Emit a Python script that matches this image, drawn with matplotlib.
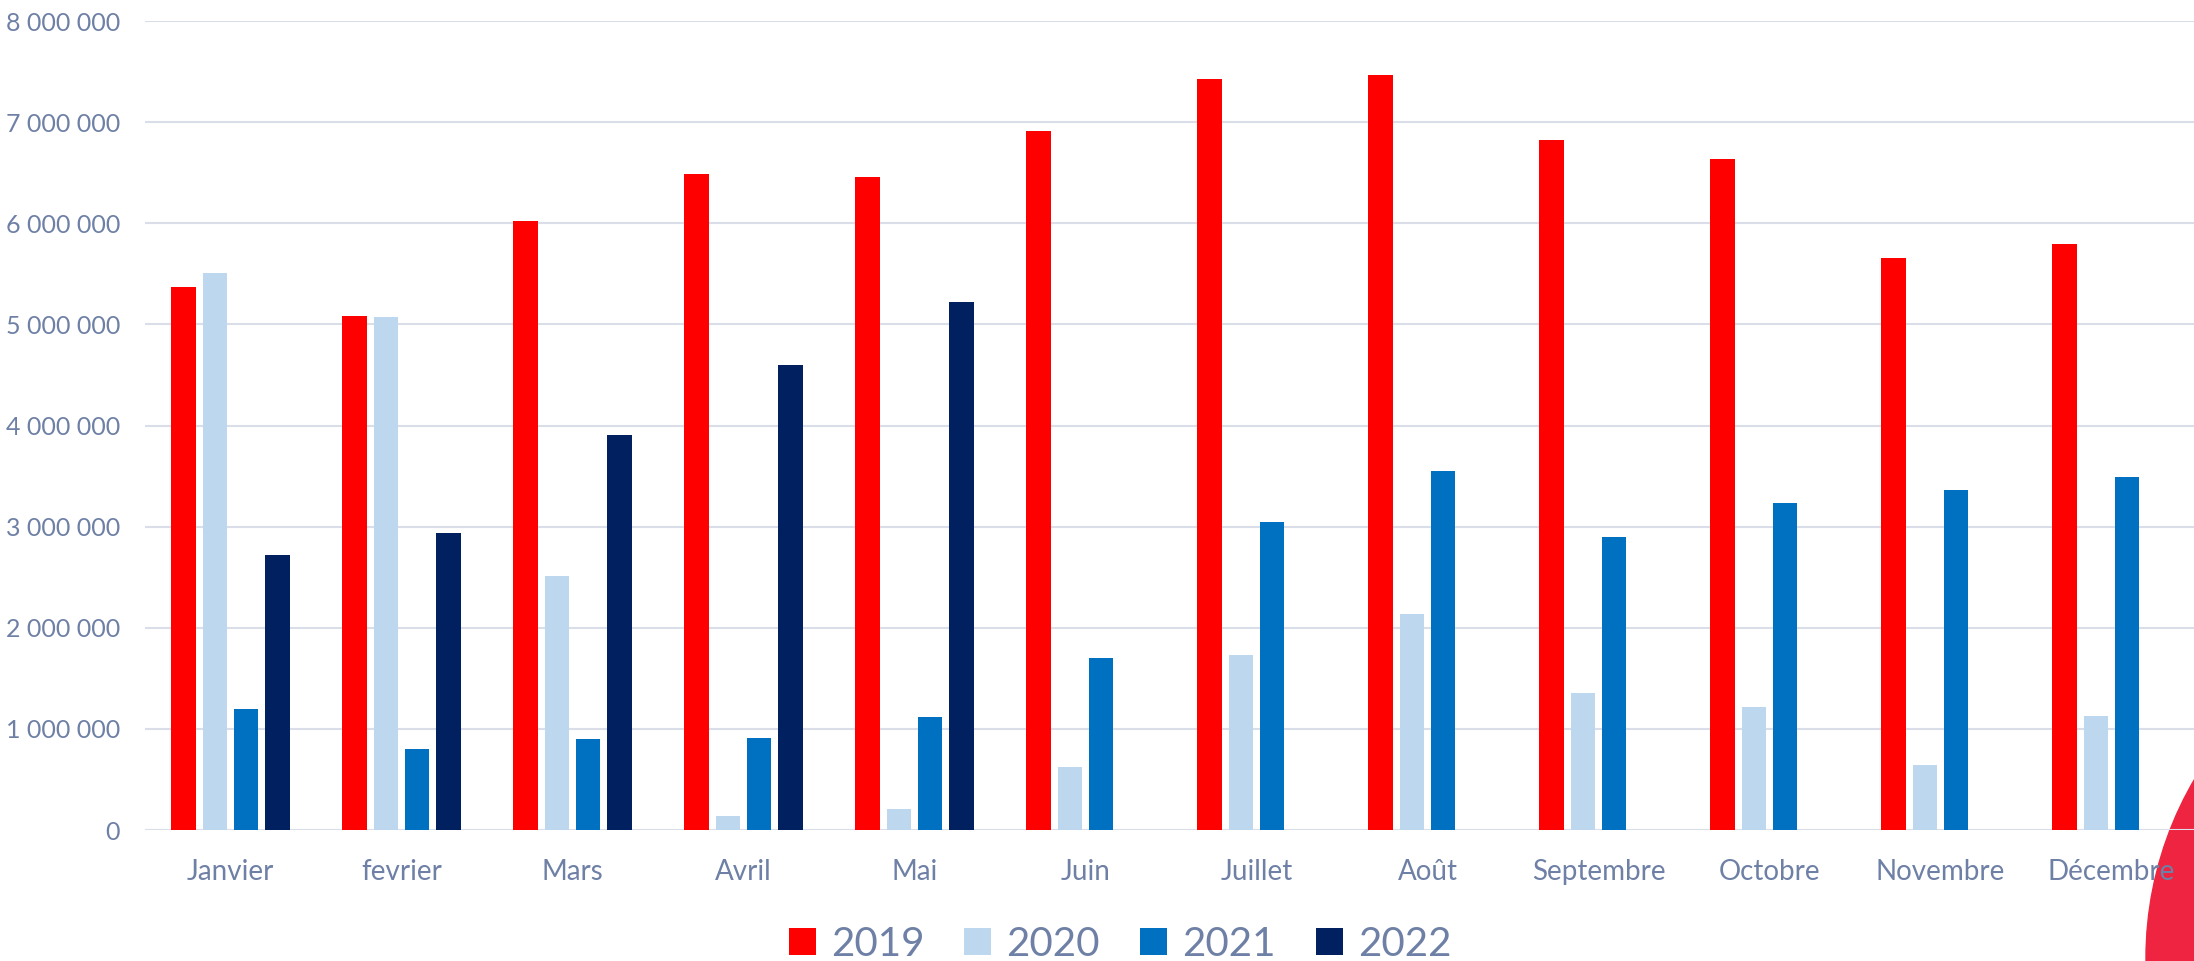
import matplotlib
matplotlib.use("Agg")
import matplotlib.pyplot as plt
from matplotlib.patches import Ellipse
from matplotlib.ticker import FuncFormatter, MultipleLocator
import numpy as np

plt.rcParams["font.family"] = ["Lato", "DejaVu Sans"]

# passagers par mois
months = ["Janvier", "fevrier", "Mars", "Avril", "Mai", "Juin", "Juillet",
          "Août", "Septembre", "Octobre", "Novembre", "Décembre"]
years = ["2019", "2020", "2021", "2022"]
pax_2019 = [5370000, 5080000, 6020000, 6490000, 6460000, 6910000,
            7430000, 7470000, 6820000, 6640000, 5660000, 5790000]
pax_2020 = [5510000, 5070000, 2510000, 140000, 210000, 620000,
            1730000, 2140000, 1350000, 1220000, 640000, 1130000]
pax_2021 = [1200000, 800000, 900000, 910000, 1120000, 1700000,
            3050000, 3550000, 2900000, 3230000, 3360000, 3490000]
pax_2022 = [2720000, 2940000, 3910000, 4600000, 5220000]
colors = ["#FF0000", "#BDD7EE", "#0070C0", "#002060"]

TEXT = "#6E80A5"
GRID = "#D9DEE9"

fig = plt.figure(figsize=(21.94, 9.61), dpi=100)
ax = fig.add_axes([145 / 2194, 1 - 830 / 961, 2052 / 2194, 809 / 961])
ax.patch.set_alpha(0)

# decorative red disc, bottom right
fig.patches.append(Ellipse((2499 / 2194, 3 / 961), 706 / 2194, 706 / 961,
                           transform=fig.transFigure, color="#EE2440",
                           zorder=-10))

x = np.arange(len(months))
pitch = 0.183
width = 0.143
series = [pax_2019, pax_2020, pax_2021, pax_2022]
for i, (year, vals, col) in enumerate(zip(years, series, colors)):
    xs = x[:len(vals)] + (i - 1.5) * pitch
    ax.bar(xs, vals, width=width, color=col, label=year, zorder=3)

ax.set_xlim(-0.5, 11.5)
ax.set_ylim(0, 8000000)
ax.yaxis.set_major_locator(MultipleLocator(1000000))
ax.yaxis.set_major_formatter(
    FuncFormatter(lambda v, p: f"{v:,.0f}".replace(",", " ")))
ax.set_xticks(x)
ax.set_xticklabels(months)
ax.grid(axis="y", color=GRID, linewidth=1.5, zorder=0)
ax.set_axisbelow(True)
for s in ax.spines.values():
    s.set_visible(False)
ax.tick_params(axis="y", length=0, pad=18, labelsize=18, labelcolor=TEXT)
ax.tick_params(axis="x", length=0, pad=21, labelsize=20, labelcolor=TEXT)

leg = fig.legend(loc="center", bbox_to_anchor=(1120 / 2194, 1 - 944 / 961),
                 ncol=4, frameon=False, fontsize=29, handlelength=0.67,
                 handleheight=0.67, handletextpad=0.37, columnspacing=1.0,
                 borderpad=0)
for t in leg.get_texts():
    t.set_color(TEXT)

# source line, mostly below the bottom edge like in the original crop
fig.text(0.0, -27 / 961, "Source : Groupe ADP", fontsize=26, color="#222222",
         va="baseline", ha="left")

fig.savefig("out.png", dpi=100)
